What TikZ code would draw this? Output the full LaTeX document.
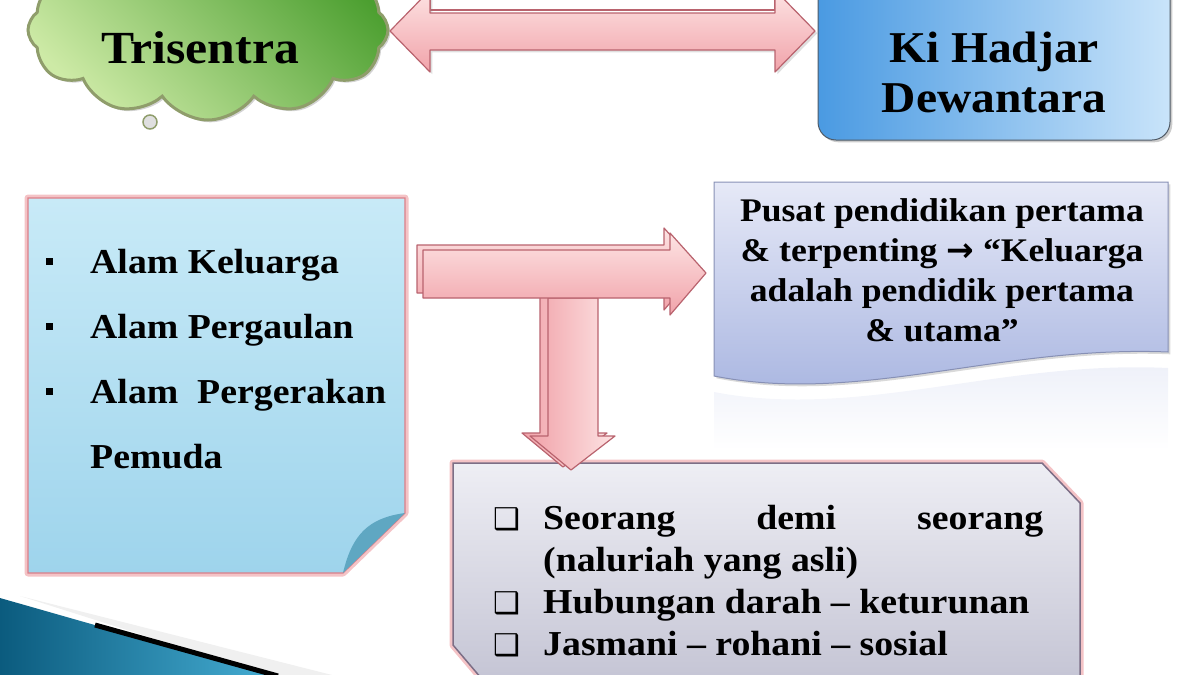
\documentclass[tikz,border=0pt]{standalone}
\usepackage{fontspec}
\setmainfont{Liberation Serif}[FakeStretch=1.08]
\newfontfamily\symfont{DejaVu Sans}
\usetikzlibrary{shapes.symbols,shadows}

\definecolor{cloudlight}{HTML}{CDEAA6}
\definecolor{clouddark}{HTML}{4C9F30}
\definecolor{cloudedge}{HTML}{8F9D6B}
\definecolor{kilight}{HTML}{C9E4FA}
\definecolor{kidark}{HTML}{4A9AE2}
\definecolor{kiedge}{HTML}{4F5A66}
\definecolor{arrowlight}{HTML}{FDE3E3}
\definecolor{arrowpink}{HTML}{F1A3AA}
\definecolor{arrowedge}{HTML}{B9636E}
\definecolor{notelight}{HTML}{C8EAF7}
\definecolor{notedark}{HTML}{9ED4EC}
\definecolor{noteflap}{HTML}{5FA7C2}
\definecolor{glowpink}{HTML}{F0A9AE}
\definecolor{noteedge}{HTML}{DC7F88}
\definecolor{pusattop}{HTML}{E6E9F7}
\definecolor{pusatbot}{HTML}{A7B4E0}
\definecolor{pusatedge}{HTML}{8790B5}
\definecolor{greytop}{HTML}{EEEEF4}
\definecolor{greybot}{HTML}{C4C4D4}
\definecolor{greyedge}{HTML}{7C6E86}
\definecolor{tealdark}{HTML}{0B5B7E}
\definecolor{teallight}{HTML}{46AED4}

\tikzset{
	blockarrow/.style={draw=arrowedge, line width=1.2pt, line join=round, top color=arrowlight, bottom color=arrowpink},
	blockarrowdown/.style={draw=arrowedge, line width=1.2pt, line join=round, left color=arrowpink, right color=arrowlight},
	glow/.style={draw=glowpink, line width=7pt, line join=round, opacity=0.7},
	bigtext/.style={font=\fontsize{45}{50}\selectfont\bfseries, align=center, inner sep=0pt},
}

\begin{document}
\begin{tikzpicture}[x=1pt,y=-1pt]
	\useasboundingbox (0,0) rectangle (1200,675);

	% corner decoration
	\fill[gray!12] (20,596) -- (340,677) -- (275,677) -- cycle;
	\shade[left color=tealdark, right color=teallight] (0,598) -- (277,677) -- (0,677) -- cycle;
	\draw[line width=5pt, black] (95,625) -- (278,676);

	% cloud
	\node[cloud, cloud puffs=12, cloud puff arc=110, cloud ignores aspect, minimum width=360, minimum height=180, draw=cloudedge, line width=3pt, top color=clouddark, bottom color=cloudlight, shading angle=-45, drop shadow={opacity=0.35}](trisentra) at (208,30){};
	\node[bigtext, font=\fontsize{46}{50}\selectfont\bfseries](trisentraText) at (200,48){Trisentra};
	\node[circle, draw=cloudedge, line width=1.5pt, fill=gray!25, minimum size=14, inner sep=0pt](bubble) at (150,122){};

	% top arrow
	\draw[arrowedge, line width=1.2pt, fill=white] (430,-8) rectangle (775,10);
	\draw[blockarrow, drop shadow={opacity=0.25}] (390,31) -- (430,-10) -- (430,13) -- (775,13) -- (775,-10) -- (815,31) -- (775,72) -- (775,50) -- (430,50) -- (430,72) -- cycle;

	% Ki Hadjar
	\node[draw=kiedge, line width=1pt, rounded corners=18, left color=kidark, right color=kilight, drop shadow={opacity=0.4}, minimum width=352, minimum height=160](kihadjar) at (994,60){};
	\node[bigtext, font=\fontsize{44}{50}\selectfont\bfseries](kihadjarText) at (994,72){Ki Hadjar\\Dewantara};

	% left note
	\draw[glow] (28,198) -- (405,198) -- (405,513) -- (343,573) -- (28,573) -- cycle;
	\draw[draw=noteedge, line width=1.2pt, top color=notelight, bottom color=notedark] (28,198) -- (405,198) -- (405,513) -- (343,573) -- (28,573) -- cycle;
	\fill[noteflap] (405,513) -- (343,573) .. controls (352,535) and (368,518) .. (405,513) -- cycle;
	\node[anchor=north west, inner sep=0pt, font=\fontsize{35}{65}\selectfont\bfseries](alam) at (46,228){%
		\begin{tabular}{@{}p{44pt}@{}l@{}}
			\rule[9pt]{7pt}{7pt} & Alam Keluarga\\
			\rule[9pt]{7pt}{7pt} & Alam Pergaulan\\
			\rule[9pt]{7pt}{7pt} & Alam\ \ Pergerakan\\
			 & Pemuda
		\end{tabular}};

	% bottom box
	\draw[glow] (453,463) -- (1042,463) -- (1080,503) -- (1080,685) -- (487,685) -- (453,645) -- cycle;
	\draw[draw=greyedge, line width=1.5pt, top color=greytop, bottom color=greybot] (453,463) -- (1042,463) -- (1080,503) -- (1080,685) -- (487,685) -- (453,645) -- cycle;
	\node[anchor=north west, inner sep=0pt, font=\fontsize{35}{42}\selectfont\bfseries](seorang) at (493,500){%
		\begin{tabular}{@{}p{50pt}@{}p{500pt}@{}}
			{\symfont\fontsize{30}{42}\selectfont ❑} & Seorang\hfill demi\hfill seorang\newline (naluriah yang asli)\\
			{\symfont\fontsize{30}{42}\selectfont ❑} & Hubungan darah – keturunan\\
			{\symfont\fontsize{30}{42}\selectfont ❑} & Jasmani – rohani – sosial
		\end{tabular}};

	% arrows between boxes
	\draw[blockarrowdown] (540,295) -- (590,295) -- (590,433) -- (607,433) -- (563,467) -- (522,433) -- (540,433) -- cycle;
	\draw[blockarrowdown] (548,298) -- (598,298) -- (598,436) -- (615,436) -- (571,470) -- (530,436) -- (548,436) -- cycle;
	\draw[blockarrow] (417,245) -- (664,245) -- (664,228) -- (700,268) -- (664,310) -- (664,293) -- (417,293) -- cycle;
	\draw[blockarrow] (423,250) -- (670,250) -- (670,233) -- (706,273) -- (670,315) -- (670,298) -- (423,298) -- cycle;

	% Pusat
	\shade[top color=pusatbot!20, bottom color=white] (714,392) .. controls (860,420) and (1000,360) .. (1168,368) -- (1168,450) -- (714,450) -- cycle;
	\draw[draw=pusatedge, line width=1pt, top color=pusattop, bottom color=pusatbot, drop shadow={opacity=0.3}] (714,182) -- (1168,182) -- (1168,352) .. controls (1000,345) and (860,405) .. (714,376) -- cycle;
	\node[font=\fontsize{33}{40}\selectfont\bfseries, align=center](pusat) at (942,270){Pusat pendidikan pertama\\\& terpenting {\symfont\bfseries →} “Keluarga\\adalah pendidik pertama\\\& utama”};
\end{tikzpicture}
\end{document}
